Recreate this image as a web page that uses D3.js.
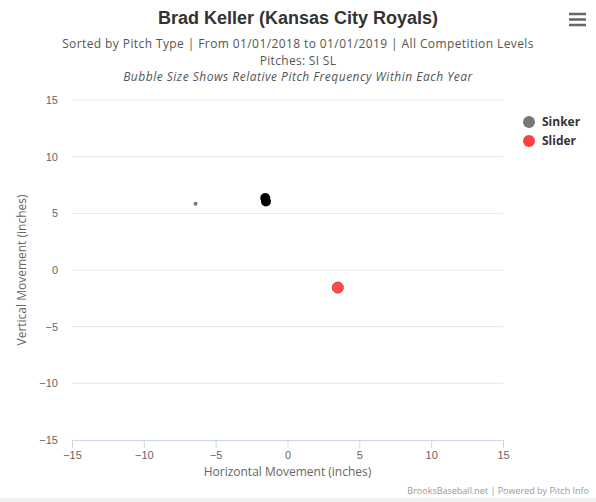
<!DOCTYPE html>
<html>
<head>
<meta charset="utf-8">
<script src="https://cdn.jsdelivr.net/npm/d3@7"></script>
<style>
  body { margin: 0; background: #fff; }
  svg { font-family: "Open Sans", "Liberation Sans", Arial, sans-serif; display: block; }
</style>
</head>
<body>
<div id="chartArea"></div>
<script>
// pitch data (inches of movement)
var seriesNames = ["Sinker", "Slider"];
var seriesColors = ["rgba(90,90,90,0.8)", "rgba(255,30,30,0.8)"];
var legendColors = ["#777777", "#ff4040"];
var sinkerX = [-6.4, -1.55, -1.5];
var sinkerY = [5.85, 6.35, 6.05];
var sinkerR = [2, 5, 5];
var sinkerFill = ["#777777", "#000000", "#000000"];
var sliderX = [3.5];
var sliderY = [-1.55];
var sliderR = [5.5];
var xTicks = [-15, -10, -5, 0, 5, 10, 15];
var yTicks = [-15, -10, -5, 0, 5, 10, 15];

var width = 596, height = 502;
var margin = {top: 100, right: 93, bottom: 62, left: 72};

var svg = d3.select("#chartArea").append("svg")
    .attr("width", width)
    .attr("height", height);

var xscale = d3.scaleLinear().domain([-15, 15]).range([margin.left, width - margin.right]);
var yscale = d3.scaleLinear().domain([-15, 15]).range([height - margin.bottom, margin.top]);

var fmt = function(d){ return d < 0 ? "\u2212" + (-d) : d; };

// grid
svg.append("g")
    .selectAll("line").data(yTicks.filter(function(d){ return d > -15; })).enter().append("line")
    .attr("x1", xscale(-15)).attr("x2", xscale(15))
    .attr("y1", function(d){ return yscale(d); })
    .attr("y2", function(d){ return yscale(d); })
    .attr("stroke", "#e6e6e6");

// y axis labels
var yAxis = svg.append("g")
    .attr("transform", "translate(" + (margin.left - 10) + ",0)")
    .call(d3.axisLeft(yscale).tickValues(yTicks).tickSize(0).tickFormat(fmt));
yAxis.select(".domain").remove();
yAxis.selectAll("text").attr("fill", "#666").style("font-size", "11px").attr("dx", "-1");

// x axis
var xAxis = svg.append("g")
    .attr("transform", "translate(0," + yscale(-15) + ")")
    .call(d3.axisBottom(xscale).tickValues(xTicks).tickSize(8).tickPadding(3).tickFormat(fmt));
xAxis.select(".domain").attr("stroke", "#ccd6eb").attr("d", "M" + xscale(-15) + ",0.5H" + xscale(15));
xAxis.selectAll(".tick line").attr("stroke", "#ccd6eb");
xAxis.selectAll("text").attr("fill", "#666").style("font-size", "11px");

// points
var sinkers = sinkerX.map(function(x, i){ return {x: x, y: sinkerY[i], r: sinkerR[i], fill: sinkerFill[i]}; });
var sliders = sliderX.map(function(x, i){ return {x: x, y: sliderY[i], r: sliderR[i]}; });

svg.append("g").selectAll("circle").data(sinkers).enter().append("circle")
    .attr("cx", function(d){ return xscale(d.x); })
    .attr("cy", function(d){ return yscale(d.y); })
    .attr("r", function(d){ return d.r; })
    .attr("fill", function(d){ return d.fill; });

svg.append("g").selectAll("circle").data(sliders).enter().append("circle")
    .attr("cx", function(d){ return xscale(d.x); })
    .attr("cy", function(d){ return yscale(d.y); })
    .attr("r", function(d){ return d.r; })
    .attr("fill", seriesColors[1])
    .attr("stroke", "#e03030")
    .attr("stroke-width", 1);

// legend
var legend = svg.append("g").attr("transform", "translate(529,122)");
seriesNames.forEach(function(name, i) {
    legend.append("circle").attr("cx", 0).attr("cy", i * 19).attr("r", 6).attr("fill", legendColors[i]);
    legend.append("text").attr("x", 13).attr("y", i * 19 + 4)
        .style("font-size", "12px").style("font-weight", "bold").attr("fill", "#333").text(name);
});

// titles
svg.append("text").attr("x", 298).attr("y", 24).attr("text-anchor", "middle")
    .style("font-family", "'Liberation Sans', Arial, sans-serif")
    .style("font-size", "18px").style("font-weight", "bold").attr("fill", "#333")
    .text("Brad Keller (Kansas City Royals)");
svg.append("text").attr("x", 298).attr("y", 48).attr("text-anchor", "middle")
    .style("font-size", "12px").style("letter-spacing", "0.4px").attr("fill", "#555")
    .text("Sorted by Pitch Type | From 01/01/2018 to 01/01/2019 | All Competition Levels");
svg.append("text").attr("x", 298).attr("y", 64.5).attr("text-anchor", "middle")
    .style("font-size", "12px").style("letter-spacing", "0.3px").attr("fill", "#555")
    .text("Pitches: SI SL");
svg.append("text").attr("x", 298).attr("y", 81).attr("text-anchor", "middle")
    .style("font-size", "12px").style("font-style", "italic").style("letter-spacing", "0.5px").attr("fill", "#555")
    .text("Bubble Size Shows Relative Pitch Frequency Within Each Year");

// axis titles
svg.append("text").attr("x", xscale(0)).attr("y", 476).attr("text-anchor", "middle")
    .style("font-size", "12px").attr("fill", "#666")
    .text("Horizontal Movement (inches)");
svg.append("text").attr("transform", "translate(26," + yscale(0) + ") rotate(-90)")
    .attr("text-anchor", "middle")
    .style("font-size", "12px").attr("fill", "#666")
    .text("Vertical Movement (inches)");

// credits + bottom strip
svg.append("rect").attr("x", 0).attr("y", 498).attr("width", width).attr("height", 4).attr("fill", "#f0f0f0");
svg.append("text").attr("x", 589).attr("y", 494).attr("text-anchor", "end")
    .style("font-size", "9px").attr("fill", "#999")
    .text("BrooksBaseball.net | Powered by Pitch Info");

// menu button
[14, 19.5, 25].forEach(function(y) {
    svg.append("rect").attr("x", 569).attr("y", y - 1.25).attr("width", 17).attr("height", 2.5).attr("fill", "#666");
});
</script>
</body>
</html>
